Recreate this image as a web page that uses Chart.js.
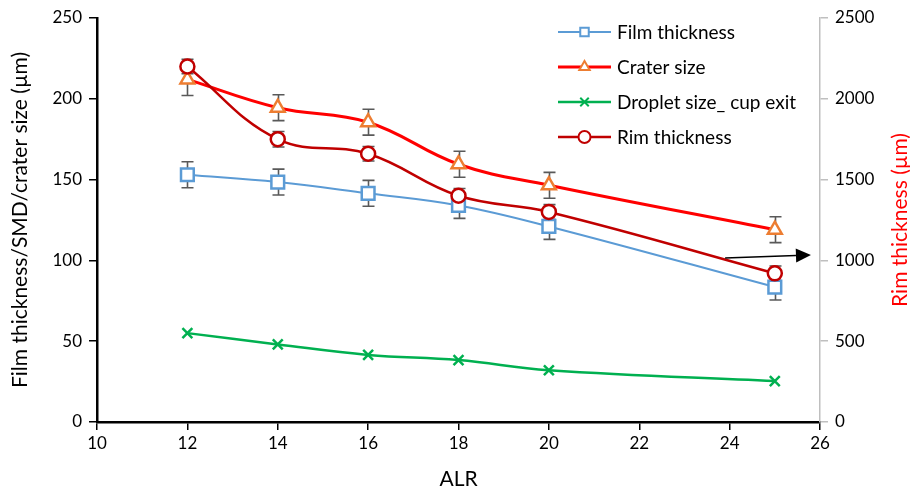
<!DOCTYPE html>
<html>
<head>
<meta charset="utf-8">
<script src="https://cdn.jsdelivr.net/npm/chart.js@4.4.1/dist/chart.umd.min.js"></script>
<style>
  html, body { margin: 0; padding: 0; background: #ffffff; }
  #wrap { width: 910px; height: 490px; }
</style>
</head>
<body>
<div id="wrap"><canvas id="c" width="910" height="490"></canvas></div>
<script>
// ALR values shared by all series
const alr = [12, 14, 16, 18, 20, 25];

// Left axis series (µm)
const filmThickness = [153, 148.5, 141.5, 134, 121, 83.5];
const filmErr       = [8, 8, 8, 8, 8, 8];
const craterSize    = [212, 194.5, 185.5, 159.5, 146.5, 119];
const craterErr     = [10, 8, 8, 8, 8, 8];
const dropletSize   = [55, 48, 41.5, 38.3, 32, 25.3];

// Right axis series (µm)
const rimThickness  = [2200, 1750, 1660, 1400, 1300, 920];
const rimErr        = [45, 48, 45, 45, 45, 45];

// Axis tick labels
const xTicks  = [10, 12, 14, 16, 18, 20, 22, 24, 26];
const yTicks  = [0, 50, 100, 150, 200, 250];
const y1Ticks = [0, 500, 1000, 1500, 2000, 2500];

// Arrow pointing at the secondary axis (data coordinates, left axis)
const arrowFrom = { x: 23.9, y: 101.5 };
const arrowTo   = { x: 25.8, y: 103.3 };

const FONT = 'Lato, "Open Sans", sans-serif';
const TITLE_SIZE = 21;
const pts = (ys) => alr.map((x, i) => ({ x: x, y: ys[i] }));

const errorBars = {
  id: 'errorBars',
  beforeDatasetsDraw(chart) {
    const ctx = chart.ctx;
    ctx.save();
    ctx.strokeStyle = '#595959';
    ctx.lineWidth = 1.6;
    chart.data.datasets.forEach((ds) => {
      if (!ds.errors) return;
      const xs = chart.scales.x;
      const ys = chart.scales[ds.yAxisID || 'y'];
      ds.data.forEach((p, i) => {
        const e = ds.errors[i];
        const px = Math.round(xs.getPixelForValue(p.x)) + 0.5;
        const top = ys.getPixelForValue(p.y + e);
        const bot = ys.getPixelForValue(p.y - e);
        ctx.beginPath();
        ctx.moveTo(px, top); ctx.lineTo(px, bot);
        ctx.moveTo(px - 6, top); ctx.lineTo(px + 6, top);
        ctx.moveTo(px - 6, bot); ctx.lineTo(px + 6, bot);
        ctx.stroke();
      });
    });
    ctx.restore();
  }
};

const arrowPlugin = {
  id: 'arrowPlugin',
  afterDatasetsDraw(chart) {
    const ctx = chart.ctx;
    const xs = chart.scales.x, ys = chart.scales.y;
    const x1 = xs.getPixelForValue(arrowFrom.x), y1 = ys.getPixelForValue(arrowFrom.y);
    const x2 = xs.getPixelForValue(arrowTo.x),   y2 = ys.getPixelForValue(arrowTo.y);
    const ang = Math.atan2(y2 - y1, x2 - x1);
    const headLen = 15, headHalf = 7;
    const bx = x2 - headLen * Math.cos(ang), by = y2 - headLen * Math.sin(ang);
    ctx.save();
    ctx.strokeStyle = '#000000';
    ctx.fillStyle = '#000000';
    ctx.lineWidth = 1.5;
    ctx.beginPath();
    ctx.moveTo(x1, y1); ctx.lineTo(bx, by);
    ctx.stroke();
    ctx.beginPath();
    ctx.moveTo(x2, y2);
    ctx.lineTo(bx - headHalf * Math.sin(ang), by + headHalf * Math.cos(ang));
    ctx.lineTo(bx + headHalf * Math.sin(ang), by - headHalf * Math.cos(ang));
    ctx.closePath();
    ctx.fill();
    ctx.restore();
  }
};

// Secondary axis title, reading bottom-to-top like the primary one
const rightTitle = {
  id: 'rightTitle',
  afterDraw(chart) {
    const ctx = chart.ctx;
    const area = chart.chartArea;
    ctx.save();
    ctx.translate(900, (area.top + area.bottom) / 2);
    ctx.rotate(-Math.PI / 2);
    ctx.fillStyle = '#FF0000';
    ctx.font = TITLE_SIZE + 'px ' + FONT;
    ctx.textAlign = 'center';
    ctx.textBaseline = 'middle';
    ctx.fillText('Rim thickness (µm)', 0, 0);
    ctx.restore();
  }
};

const lineLegend = {
  id: 'lineLegend',
  afterDraw(chart) {
    const ctx = chart.ctx;
    const x0 = 558, x1 = 611, tx = 617;
    const rows = [32, 67, 102, 137];
    const order = [1, 2, 3, 0]; // film, crater, droplet, rim
    ctx.save();
    order.forEach((di, r) => {
      const ds = chart.data.datasets[di];
      const y = rows[r];
      ctx.strokeStyle = ds.borderColor;
      ctx.lineWidth = ds.borderWidth;
      ctx.beginPath();
      ctx.moveTo(x0, y); ctx.lineTo(x1, y);
      ctx.stroke();
      ctx.fillStyle = '#ffffff';
      ctx.strokeStyle = ds.pointBorderColor;
      ctx.lineWidth = 2;
      Chart.helpers.drawPoint(ctx,
        { pointStyle: ds.pointStyle, rotation: 0, radius: 6, borderWidth: 2 },
        (x0 + x1) / 2, y);
      ctx.fillStyle = '#000000';
      ctx.font = '19px ' + FONT;
      ctx.textBaseline = 'middle';
      ctx.textAlign = 'left';
      ctx.fillText(ds.label, tx, y + 1);
    });
    ctx.restore();
  }
};

new Chart(document.getElementById('c'), {
  type: 'line',
  data: {
    datasets: [
      {
        label: 'Rim thickness',
        data: pts(rimThickness),
        errors: rimErr,
        yAxisID: 'y1',
        borderColor: '#C00000',
        borderWidth: 2.5,
        pointStyle: 'circle',
        pointRadius: 7,
        pointBorderWidth: 2.5,
        pointBorderColor: '#C00000',
        pointBackgroundColor: '#ffffff',
        tension: 0.4,
        order: 0
      },
      {
        label: 'Film thickness',
        data: pts(filmThickness),
        errors: filmErr,
        yAxisID: 'y',
        borderColor: '#5B9BD5',
        borderWidth: 2,
        pointStyle: 'rect',
        pointRadius: 9,
        pointBorderWidth: 2.5,
        pointBorderColor: '#5B9BD5',
        pointBackgroundColor: '#ffffff',
        tension: 0.4,
        order: 3
      },
      {
        label: 'Crater size',
        data: pts(craterSize),
        errors: craterErr,
        yAxisID: 'y',
        borderColor: '#FF0000',
        borderWidth: 3,
        pointStyle: 'triangle',
        pointRadius: 8,
        pointBorderWidth: 2.5,
        pointBorderColor: '#ED7D31',
        pointBackgroundColor: '#ffffff',
        tension: 0.4,
        order: 2
      },
      {
        label: 'Droplet size_ cup exit',
        data: pts(dropletSize),
        yAxisID: 'y',
        borderColor: '#00B050',
        borderWidth: 2.5,
        pointStyle: 'crossRot',
        pointRadius: 7,
        pointBorderWidth: 2.5,
        pointBorderColor: '#00B050',
        pointBackgroundColor: '#00B050',
        tension: 0.4,
        order: 1
      }
    ]
  },
  options: {
    responsive: false,
    devicePixelRatio: 1,
    animation: false,
    events: [],
    layout: { padding: { top: 18, left: 0, right: 0, bottom: 0 } },
    plugins: {
      legend: { display: false },
      tooltip: { enabled: false }
    },
    scales: {
      x: {
        type: 'linear',
        min: 10, max: 26,
        afterFit(s) { s.height = 68; },
        afterBuildTicks(s) { s.ticks = xTicks.map(v => ({ value: v })); },
        border: { display: true, color: '#000000', width: 2.5 },
        grid: { drawOnChartArea: false, drawTicks: true, tickLength: 8, color: '#000000', lineWidth: 1.5 },
        ticks: { color: '#000000', padding: 3, maxRotation: 0, font: { family: FONT, size: 17 } },
        title: { display: true, text: 'ALR', color: '#000000', padding: { top: 0, bottom: 0 },
                 font: { family: FONT, size: TITLE_SIZE, lineHeight: 1 } }
      },
      y: {
        type: 'linear',
        position: 'left',
        min: 0, max: 250,
        afterFit(s) { s.width = 97; },
        afterBuildTicks(s) { s.ticks = yTicks.map(v => ({ value: v })); },
        border: { display: true, color: '#000000', width: 2.5 },
        grid: { drawOnChartArea: false, drawTicks: true, tickLength: 8, color: '#000000', lineWidth: 1.5 },
        ticks: { color: '#000000', padding: 7, font: { family: FONT, size: 17 } },
        title: { display: true, text: 'Film thickness/SMD/crater size (µm)', color: '#000000',
                 padding: { top: 10, bottom: 0 }, font: { family: FONT, size: TITLE_SIZE, lineHeight: 1 } }
      },
      y1: {
        type: 'linear',
        position: 'right',
        min: 0, max: 2500,
        afterFit(s) { s.width = 90; },
        afterBuildTicks(s) { s.ticks = y1Ticks.map(v => ({ value: v })); },
        border: { display: true, color: '#BFBFBF', width: 1.5 },
        grid: { drawOnChartArea: false, drawTicks: true, tickLength: 8, color: '#BFBFBF', lineWidth: 1.5 },
        ticks: { color: '#000000', padding: 7, font: { family: FONT, size: 17 },
                 callback: (v) => String(v) },
        title: { display: false }
      }
    }
  },
  plugins: [errorBars, arrowPlugin, rightTitle, lineLegend]
});
</script>
</body>
</html>
